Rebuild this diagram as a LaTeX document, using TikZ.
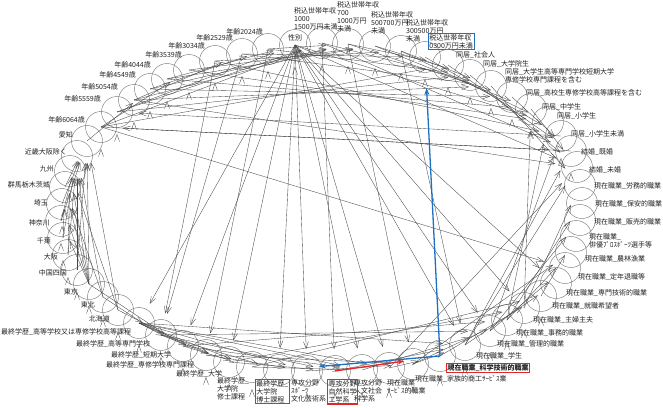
\documentclass[tikz,border=0pt]{standalone}
\usepackage{fontspec}
\setmainfont{Noto Sans CJK JP}
\usetikzlibrary{arrows.meta}
\definecolor{grey500}{HTML}{7A7A7A}
\definecolor{grey700}{HTML}{474747}
\definecolor{grey900}{HTML}{222222}
\definecolor{blue600}{HTML}{1E70C2}
\definecolor{red600} {HTML}{E2262A}
\tikzset{
  vc/.style  ={circle, draw=grey500, line width=0.45pt, minimum size=31pt,
               inner sep=0pt},
  lb/.style  ={font=\fontsize{7}{8}\selectfont, text=grey900, inner sep=1pt,
               align=left},
  lbb/.style ={lb, draw=blue600, line width=0.9pt},
  lbr/.style ={lb, draw=red600, line width=1.1pt,
               font=\fontsize{7}{8}\selectfont\bfseries},
  ar/.style  ={-{Straight Barb[length=7pt,width=5pt]}, draw=grey700,
               line width=0.35pt, shorten >=22pt},
  arb/.style ={-{Stealth[length=7pt,width=5pt]}, draw=blue600,
               line width=1.3pt, shorten >=31pt},
  arr/.style ={-{Stealth[length=7pt,width=5pt]}, draw=red600,
               line width=1.3pt, shorten >=36pt}
}

\begin{document}
\begin{tikzpicture}[x=1pt, y=-1pt]
\useasboundingbox (0,0) rectangle (663,407);

% age, top left
\node[vc] (y60) at (101,127) {};
\node[lb, anchor=east] (y60l) at (86,120) {年齢6064歳};
\node[vc] (y55) at (117,112) {};
\node[lb, anchor=east] (y55l) at (102,99) {年齢5559歳};
\node[vc] (y50) at (134,100) {};
\node[lb, anchor=east] (y50l) at (119,87) {年齢5054歳};
\node[vc] (y45) at (150,89) {};
\node[lb, anchor=east] (y45l) at (137,75) {年齢4549歳};
\node[vc] (y40) at (167,79) {};
\node[lb, anchor=east] (y40l) at (152,65) {年齢4044歳};
\node[vc] (y35) at (189,70) {};
\node[lb, anchor=east] (y35l) at (183,55) {年齢3539歳};
\node[vc] (y30) at (215,61) {};
\node[lb, anchor=east] (y30l) at (206,46) {年齢3034歳};
\node[vc] (y25) at (242,54) {};
\node[lb, anchor=east] (y25l) at (234,38) {年齢2529歳};
\node[vc] (y20) at (268,49) {};
\node[lb, anchor=east] (y20l) at (264,32) {年齢2024歳};
\node[vc] (sex) at (295,45) {};
\node[lb] (sexl) at (295,38) {性別};

% income, top
\node[vc] (inc1) at (322,43) {};
\node[lb, anchor=north west] (inc1l) at (293,6) {税込世帯年収\\1000\\1500万円未満};
\node[vc] (inc2) at (348,44) {};
\node[lb, anchor=north west] (inc2l) at (336,0) {税込世帯年収\\700\\1000万円\\未満};
\node[vc] (inc3) at (375,46) {};
\node[lb, anchor=north west] (inc3l) at (370,10) {税込世帯年収\\500700万円\\未満};
\node[vc] (inc4) at (401,51) {};
\node[lb, anchor=north west] (inc4l) at (405,18) {税込世帯年収\\300500万円\\未満};
\node[vc] (inc5) at (425,57) {};
\node[lbb, anchor=north west] (inc5l) at (428,33) {税込世帯年収\\0300万円未満};

% household and marriage, top right
\node[vc] (co1) at (448,65) {};
\node[lb, anchor=west] (co1l) at (455,55) {同居\_社会人};
\node[vc] (co2) at (470,75) {};
\node[lb, anchor=west] (co2l) at (482,64) {同居\_大学院生};
\node[vc] (co3) at (491,86) {};
\node[lb, anchor=west] (co3l) at (504,76) {同居\_大学生高等専門学校短期大学\\専修学校専門課程を含む};
\node[vc] (co4) at (512,97) {};
\node[lb, anchor=west] (co4l) at (525,93) {同居\_高校生専修学校高等課程を含む};
\node[vc] (co5) at (531,109) {};
\node[lb, anchor=west] (co5l) at (541,107) {同居\_中学生};
\node[vc] (co6) at (548,122) {};
\node[lb, anchor=west] (co6l) at (556,116) {同居\_小学生};
\node[vc] (co7) at (561,136) {};
\node[lb, anchor=west] (co7l) at (570,134) {同居\_小学生未満};
\node[vc] (mar1) at (571,151) {};
\node[lb, anchor=west] (mar1l) at (580,152) {結婚\_既婚};
\node[vc] (mar2) at (577,167) {};
\node[lb, anchor=west] (mar2l) at (588,170) {結婚\_未婚};

% current job, right
\node[vc] (job1) at (580,185) {};
\node[lb, anchor=west] (job1l) at (593,186) {現在職業\_労務的職業};
\node[vc] (job2) at (582,203) {};
\node[lb, anchor=west] (job2l) at (594,204) {現在職業\_保安的職業};
\node[vc] (job3) at (580,220) {};
\node[lb, anchor=west] (job3l) at (593,222) {現在職業\_販売的職業};
\node[vc] (job4) at (576,236) {};
\node[lb, anchor=west] (job4l) at (588,241) {現在職業\_\\俳優ﾌﾟﾛｽﾎﾟｰﾂ選手等};
\node[vc] (job5) at (571,252) {};
\node[lb, anchor=west] (job5l) at (584,259) {現在職業\_農林漁業};
\node[vc] (job6) at (565,268) {};
\node[lb, anchor=west] (job6l) at (577,277) {現在職業\_定年退職等};
\node[vc] (job7) at (556,283) {};
\node[lb, anchor=west] (job7l) at (565,293) {現在職業\_専門技術的職業};
\node[vc] (job8) at (541,296) {};
\node[lb, anchor=west] (job8l) at (551,306) {現在職業\_就職希望者};
\node[vc] (job9) at (524,308) {};
\node[lb, anchor=west] (job9l) at (532,320) {現在職業\_主婦主夫};
\node[vc] (job10) at (507,320) {};
\node[lb, anchor=west] (job10l) at (515,333) {現在職業\_事務的職業};
\node[vc] (job11) at (490,331) {};
\node[lb, anchor=west] (job11l) at (496,344) {現在職業\_管理的職業};
\node[vc] (job12) at (465,345) {};
\node[lb, anchor=west] (job12l) at (475,356) {現在職業\_学生};
\node[vc] (job13) at (440,356) {};
\node[lbr, anchor=west] (job13l) at (446,368) {現在職業\_科学技術的職業};
\node[vc] (job14) at (413,364) {};
\node[lb, anchor=west] (job14l) at (414,379) {現在職業\_家族的商工ｻｰﾋﾞｽ業};
\node[vc] (job15) at (389,368) {};
\node[lb, anchor=north west] (job15l) at (386,378) {現在職業\\ｻｰﾋﾞｽ的職業};

% major and education, bottom
\node[vc] (maj1) at (362,370) {};
\node[lb, anchor=north west] (maj1l) at (353,378) {専攻分野\\人文社会\\科学系};
\node[vc] (maj2) at (335,371) {};
\node[lbr, anchor=north west, font=\fontsize{7}{8}\selectfont] (maj2l) at (327,379) {専攻分野\\自然科学\\工学系};
\node[vc] (maj3) at (307,371) {};
\node[lb, anchor=north west] (maj3l) at (290,378) {専攻分野\\ｽﾎﾟｰﾂ\\文化芸術系};
\node[vc] (edu1) at (279,370) {};
\node[lbb, anchor=north west] (edu1l) at (255,379) {最終学歴\_\\大学院\\博士課程};
\node[vc] (edu2) at (252,367) {};
\node[lb, anchor=north west] (edu2l) at (216,376) {最終学歴\_\\大学院\\修士課程};
\node[vc] (edu3) at (229,362) {};
\node[lb, anchor=west] (edu3l) at (175,374) {最終学歴\_大学};
\node[vc] (edu4) at (206,355) {};
\node[lb, anchor=west] (edu4l) at (105,365) {最終学歴\_専修学校専門課程};
\node[vc] (edu5) at (183,346) {};
\node[lb, anchor=west] (edu5l) at (110,355) {最終学歴\_短期大学};
\node[vc] (edu6) at (161,335) {};
\node[lb, anchor=west] (edu6l) at (75,344) {最終学歴\_高等専門学校};
\node[vc] (edu7) at (139,323) {};
\node[lb, anchor=west] (edu7l) at (0,332) {最終学歴\_高等学校又は専修学校高等課程};

% region, left
\node[vc] (hok) at (118,310) {};
\node[lb, anchor=east] (hokl) at (111,319) {北海道};
\node[vc] (toh) at (103,297) {};
\node[lb, anchor=east] (tohl) at (96,305) {東北};
\node[vc] (tok) at (89,284) {};
\node[lb, anchor=east] (tokl) at (79,292) {東京};
\node[vc] (chu) at (77,270) {};
\node[lb, anchor=east] (chul) at (68,273) {中国四国};
\node[vc] (osa) at (68,255) {};
\node[lb, anchor=east] (osal) at (59,257) {大阪};
\node[vc] (chi) at (63,238) {};
\node[lb, anchor=east] (chil) at (52,241) {千葉};
\node[vc] (kan) at (61,221) {};
\node[lb, anchor=east] (kanl) at (51,223) {神奈川};
\node[vc] (sai) at (62,204) {};
\node[lb, anchor=east] (sail) at (49,203) {埼玉};
\node[vc] (gun) at (65,187) {};
\node[lb, anchor=east] (gunl) at (51,185) {群馬栃木茨城};
\node[vc] (kyu) at (70,171) {};
\node[lb, anchor=east] (kyul) at (55,169) {九州};
\node[vc] (kin) at (77,156) {};
\node[lb, anchor=east] (kinl) at (68,152) {近畿大阪除く};
\node[vc] (aic) at (87,141) {};
\node[lb, anchor=east] (aicl) at (74,135) {愛知};

% links from age
\path[ar] (y60.center) edge (inc1.center) edge (co1.center) edge (mar1.center)
  edge (job6.center) edge (y35.center);
\path[ar] (y55.center) edge (inc1.center) edge (co2.center) edge (sex.center);
\path[ar] (y50.center) edge (inc2.center) edge (co3.center) edge (mar2.center)
  edge (y25.center);
\path[ar] (y45.center) edge (inc2.center) edge (co4.center) edge (y20.center);
\path[ar] (y40.center) edge (inc3.center) edge (co5.center) edge (sex.center);
\path[ar] (y35.center) edge (inc3.center) edge (co6.center);
\path[ar] (y30.center) edge (inc4.center) edge (co7.center) edge (edu6.center);
\path[ar] (y25.center) edge (inc5.center) edge (co3.center) edge (edu6.center);
\path[ar] (y20.center) edge (inc2.center) edge (co2.center) edge (edu4.center);
\path[ar] (mar1.center) edge (y60.center);
\path[ar] (co7.center) edge (y55.center);

% links from sex and income
\path[ar] (sex.center) edge (edu7.center) edge (edu5.center) edge (edu3.center)
  edge (edu1.center) edge (maj3.center) edge (maj1.center) edge (job15.center)
  edge (job12.center) edge (job11.center) edge (job9.center) edge (job7.center)
  edge (mar2.center) edge (co6.center);
\path[ar] (inc1.center) edge (maj2.center) edge (co3.center) edge (mar1.center);
\path[ar] (inc2.center) edge (job14.center) edge (co4.center) edge (co1.center);
\path[ar] (inc3.center) edge (co5.center) edge (co2.center);
\path[ar] (inc4.center) edge (job12.center) edge (co6.center) edge (co3.center);
\path[ar] (inc5.center) edge (co7.center);
\path[ar] (co1.center) edge (mar1.center);
\path[ar] (co2.center) edge (mar2.center);
\path[ar] (co3.center) edge (job1.center);
\path[ar] (co4.center) edge (mar1.center);
\path[ar] (co5.center) edge (mar2.center);

% links among regions
\path[ar] (tok.center) edge (kin.center) edge (aic.center) edge (kyu.center)
  edge (gun.center) edge (sai.center) edge (kan.center) edge (edu5.center);
\path[ar] (chu.center) edge (kin.center) edge (aic.center);
\path[ar] (osa.center) edge (kin.center) edge (kyu.center);
\path[ar] (chi.center) edge (kin.center) edge (gun.center);
\path[ar] (kan.center) edge (kin.center) edge (aic.center);
\path[ar] (hok.center) edge (aic.center) edge (kyu.center) edge (edu4.center);
\path[ar] (toh.center) edge (kin.center) edge (gun.center) edge (edu6.center);
\path[ar] (sai.center) edge (aic.center);
\path[ar] (gun.center) edge (aic.center);
\path[ar] (aic.center) edge (y45.center);

% links from education and major
\path[ar] (edu7.center) edge (edu5.center) edge (edu4.center) edge (edu3.center)
  edge (edu2.center) edge (maj3.center) edge (maj1.center) edge (job15.center)
  edge (job12.center);
\path[ar] (edu6.center) edge (edu3.center) edge (edu1.center) edge (maj2.center)
  edge (job11.center);
\path[ar] (edu5.center) edge (edu2.center) edge (maj1.center) edge (job10.center);
\path[ar] (edu4.center) edge (maj3.center) edge (job14.center);
\path[ar] (edu3.center) edge (maj2.center) edge (job9.center);
\path[ar] (edu2.center) edge (maj1.center) edge (job8.center);
\path[ar] (maj1.center) edge (job11.center);
\path[ar] (maj2.center) edge (job12.center);
\path[ar] (maj3.center) edge (job14.center);

% links among jobs
\path[ar] (job15.center) edge (mar2.center) edge (job13.center);
\path[ar] (job14.center) edge (job5.center) edge (job10.center) edge (job12.center);
\path[ar] (job13.center) edge (job8.center);
\path[ar] (job12.center) edge (mar2.center) edge (mar1.center) edge (job7.center);
\path[ar] (job11.center) edge (co7.center) edge (job3.center) edge (job6.center);
\path[ar] (job10.center) edge (job2.center) edge (co6.center) edge (job5.center);
\path[ar] (job9.center) edge (job1.center) edge (co5.center);
\path[ar] (job8.center) edge (job4.center);

% highlighted links
\draw[arr] (maj2.center) -- (job13.center);
\draw[arb] (job13.center) -- (inc5.center);
\draw[arb, shorten >=40pt] (job13.center) -- (edu1.center);
\end{tikzpicture}
\end{document}
